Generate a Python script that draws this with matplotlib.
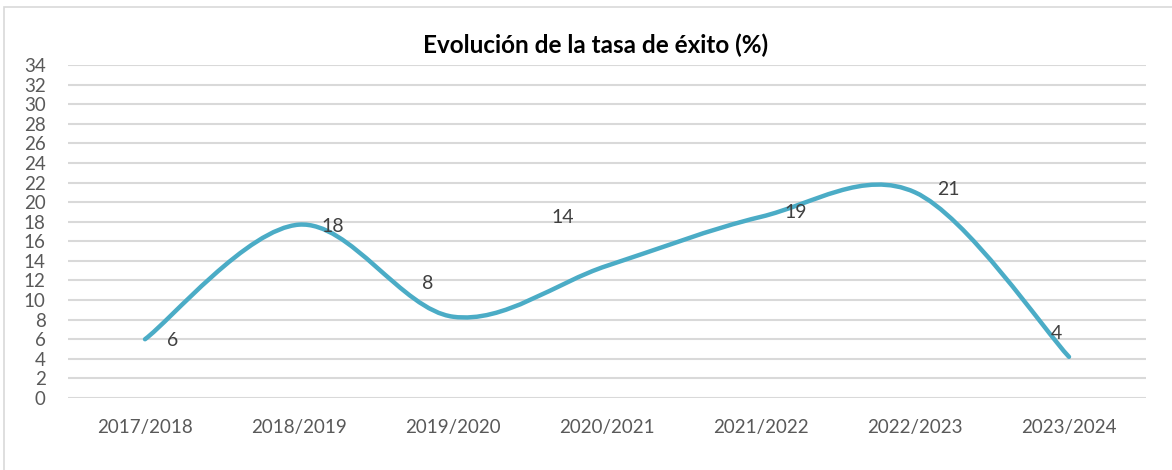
import numpy as np
import matplotlib
matplotlib.use("Agg")
import matplotlib.pyplot as plt
from matplotlib.path import Path
from matplotlib.patches import PathPatch, Rectangle

# data
courses = ["2017/2018", "2018/2019", "2019/2020", "2020/2021",
           "2021/2022", "2022/2023", "2023/2024"]
success_rate = [6, 17.7, 8.3, 13.5, 18.5, 21, 4.2]
y_ticks = list(range(0, 35, 2))

# label offsets (points) from each data point, as placed in the original
label_offsets = [(20, -1), (24, -1), (-18, 24), (-32, 35), (25, 3), (24, 2), (-9, 17)]

LINE = "#4BACC6"
GRID = "#D9D9D9"
TXT = "#595959"
LBL = "#404040"

plt.rcParams["font.family"] = ["Lato", "DejaVu Sans"]

fig = plt.figure(figsize=(11.72, 4.70), dpi=100)
W, H = 1172, 470
ax = fig.add_axes([68 / W, 1 - 398 / H, (1146 - 68) / W, (398 - 65) / H])

# outer chart border
fig.patches.append(Rectangle((3.5 / W, -0.1), 1.2, 1 - 7.5 / H + 0.1,
                             transform=fig.transFigure, fill=False,
                             edgecolor=GRID, linewidth=1.2))

x = np.arange(len(success_rate))
y = np.array(success_rate, dtype=float)

# smoothed line (Excel-style): cubic Bezier segments through the points
verts = [(x[0], y[0])]
codes = [Path.MOVETO]
n = len(x)
for i in range(n - 1):
    p0 = np.array([x[max(i - 1, 0)], y[max(i - 1, 0)]])
    p1 = np.array([x[i], y[i]])
    p2 = np.array([x[i + 1], y[i + 1]])
    p3 = np.array([x[min(i + 2, n - 1)], y[min(i + 2, n - 1)]])
    c1 = p1 + (p2 - p0) / 6
    c2 = p2 - (p3 - p1) / 6
    verts += [tuple(c1), tuple(c2), tuple(p2)]
    codes += [Path.CURVE4] * 3
ax.add_patch(PathPatch(Path(verts, codes), facecolor="none", edgecolor=LINE,
                       linewidth=3.2, capstyle="round", joinstyle="round", zorder=3))

for xi, yi, (dx, dy) in zip(x, y, label_offsets):
    ax.annotate(f"{int(yi + 0.5)}", (xi, yi), xytext=(dx, dy), textcoords="offset points",
                ha="center", va="center", fontsize=14, color=LBL, zorder=4)

ax.set_xlim(-0.5, len(courses) - 0.5)
ax.set_ylim(0, 34)
ax.set_yticks(y_ticks)
ax.set_xticks(x)
ax.set_xticklabels(courses)
ax.tick_params(axis="both", length=0, labelsize=13.5, labelcolor=TXT)
ax.tick_params(axis="y", pad=16)
ax.tick_params(axis="x", pad=15)
ax.grid(axis="y", color=GRID, linewidth=1.5)
ax.set_axisbelow(True)
for s in ax.spines.values():
    s.set_visible(False)

fig.text(596 / W, 1 - 45 / H, "Evolución de la tasa de éxito (%)", ha="center", va="center",
         fontsize=17.5, fontweight="bold", color="black")

fig.savefig("out.png", dpi=100)
